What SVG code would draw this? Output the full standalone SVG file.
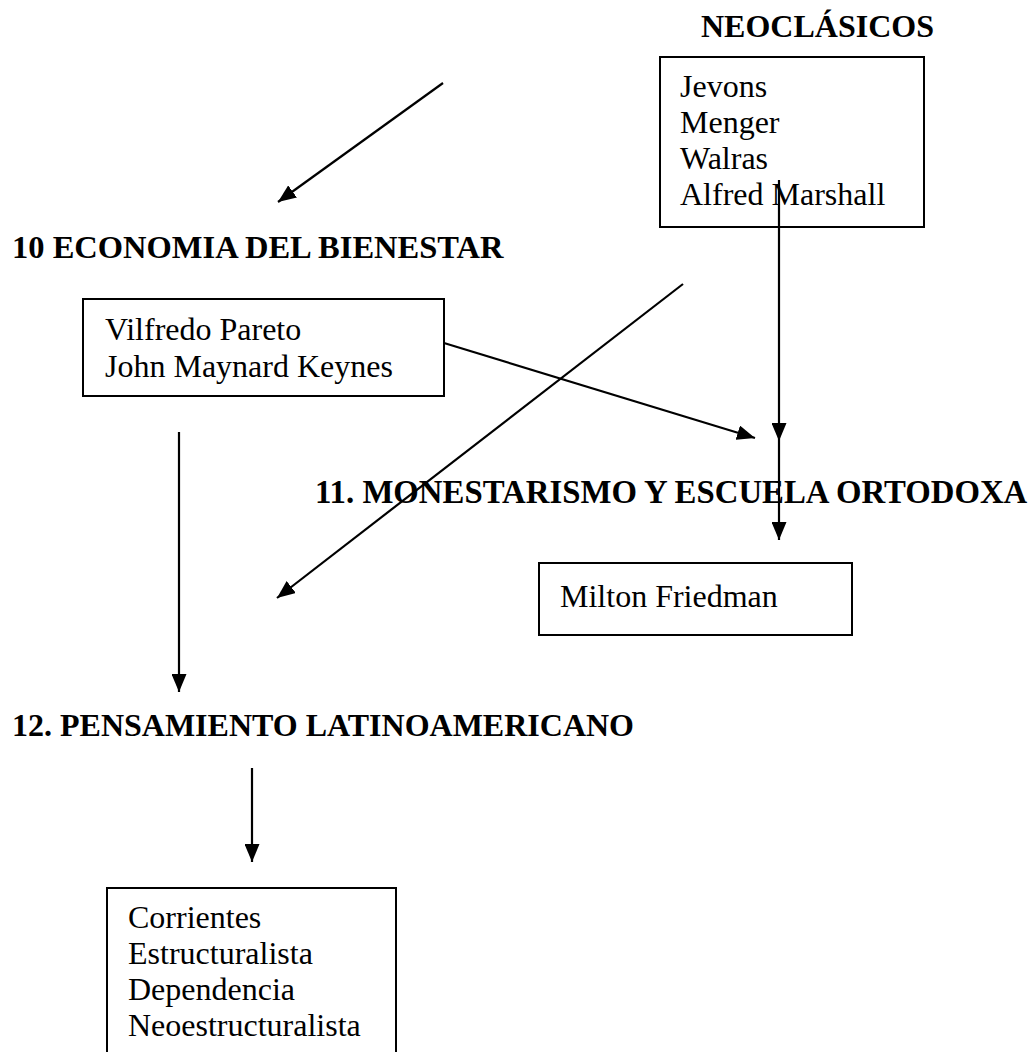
<svg xmlns="http://www.w3.org/2000/svg" width="1034" height="1052" viewBox="0 0 1034 1052">
<style>
text{font-family:"Liberation Serif","Times New Roman",serif;font-size:32px;fill:#000}
.h{font-weight:bold}
.box{fill:#fff;stroke:#000;stroke-width:2}
.c{stroke:#000;stroke-width:2.2;fill:none;marker-end:url(#ah)}
</style>
<defs>
<marker id="ah" markerUnits="userSpaceOnUse" markerWidth="19" markerHeight="15" refX="18" refY="7.5" orient="auto">
<path d="M0,0 L18,7.5 L0,15 z" fill="#000"/>
</marker>
</defs>
<rect width="1034" height="1052" fill="#fff"/>
<g id="neoclasicos">
<text class="h" x="701" y="37">NEOCLÁSICOS</text>
<rect class="box" x="660" y="57" width="264" height="170"/>
<text x="680" y="97">Jevons</text>
<text x="680" y="133">Menger</text>
<text x="680" y="169">Walras</text>
<text x="680" y="205">Alfred Marshall</text>
</g>
<g id="bienestar">
<text class="h" x="12" y="258" style="font-size:32.5px">10 ECONOMIA DEL BIENESTAR</text>
<rect class="box" x="83" y="299" width="361" height="97"/>
<text x="105" y="340">Vilfredo Pareto</text>
<text x="105" y="377">John Maynard Keynes</text>
</g>
<g id="monetarismo">
<text class="h" x="315" y="503" style="font-size:32.8px">11. MONESTARISMO Y ESCUELA ORTODOXA</text>
<rect class="box" x="539" y="563" width="313" height="72"/>
<text x="560" y="607">Milton Friedman</text>
</g>
<g id="latinoamericano">
<text class="h" x="12" y="736">12. PENSAMIENTO LATINOAMERICANO</text>
<rect class="box" x="107" y="888" width="289" height="180"/>
<text x="128" y="928">Corrientes</text>
<text x="128" y="964">Estructuralista</text>
<text x="128" y="1000">Dependencia</text>
<text x="128" y="1036">Neoestructuralista</text>
</g>
<g id="connectors">
<line class="c" x1="443" y1="83" x2="278" y2="202"/>
<line class="c" x1="779" y1="180" x2="779" y2="441"/>
<line class="c" x1="779" y1="441" x2="779" y2="540"/>
<line class="c" x1="444" y1="343" x2="755" y2="438"/>
<line class="c" x1="683" y1="284" x2="277" y2="598"/>
<line class="c" x1="179" y1="432" x2="179" y2="692"/>
<line class="c" x1="252" y1="768" x2="252" y2="862"/>
</g>
</svg>
